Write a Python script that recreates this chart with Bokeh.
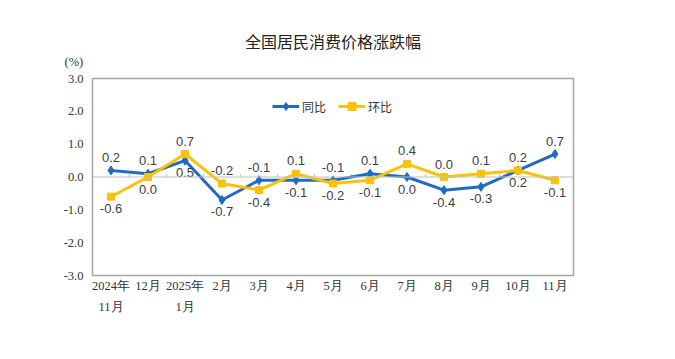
from bokeh.plotting import figure
from bokeh.models import (Range1d, FixedTicker, Span, Title, Legend, LegendItem)
from bokeh.core.properties import value
from bokeh.embed import file_html
from bokeh.resources import INLINE

months = ["2024年\n11月", "12月", "2025年\n1月", "2月", "3月", "4月", "5月",
          "6月", "7月", "8月", "9月", "10月", "11月"]
yoy = [0.2, 0.1, 0.5, -0.7, -0.1, -0.1, -0.1, 0.1, 0.0, -0.4, -0.3, 0.2, 0.7]
mom = [-0.6, 0.0, 0.7, -0.2, -0.4, 0.1, -0.2, -0.1, 0.4, 0.0, 0.1, 0.2, -0.1]
yticks = [-3.0, -2.0, -1.0, 0.0, 1.0, 2.0, 3.0]
title_text = "全国居民消费价格涨跌幅"
unit_text = "(%)"

BLUE = "#1F6BC4"
YELLOW = "#F9C20A"
SERIF = "Liberation Serif"
SANS = "Liberation Sans"

n = len(months)
xs = [i + 0.5 for i in range(n)]

p = figure(width=659, height=343, output_backend="svg", toolbar_location=None,
           x_range=Range1d(0, n), y_range=Range1d(-3, 3),
           min_border_left=92, min_border_right=86,
           min_border_top=78, min_border_bottom=68)
p.title.visible = False
p.background_fill_color = "white"
p.border_fill_color = "white"
p.outline_line_color = "#A6A6A6"
p.outline_line_width = 1.5
p.grid.visible = False

p.xaxis.ticker = FixedTicker(ticks=xs)
p.xaxis.major_label_overrides = {x: m for x, m in zip(xs, months)}
p.yaxis.ticker = FixedTicker(ticks=yticks)
p.yaxis.major_label_overrides = {t: f"{t:.1f}" for t in yticks}
for ax in (p.xaxis[0], p.yaxis[0]):
    ax.axis_line_color = None
    ax.major_tick_line_color = None
    ax.minor_tick_line_color = None
    ax.major_tick_out = 0
    ax.major_tick_in = 0
    ax.major_label_text_font = SERIF
    ax.major_label_text_font_size = "12.5px"
    ax.major_label_text_color = "#333333"
p.yaxis.major_label_standoff = 9
p.xaxis.major_label_standoff = 3
p.xaxis.major_label_text_line_height = 1.5

# zero line with category boundary ticks
p.add_layout(Span(location=0, dimension="width", line_color="#BFBFBF", line_width=1.2))
bounds = list(range(1, n))
p.segment(x0=bounds, x1=bounds, y0=[0] * len(bounds), y1=[0.09] * len(bounds),
          line_color="#BFBFBF", line_width=1)

r1l = p.line(xs, yoy, line_color=BLUE, line_width=3)
r1m = p.scatter(xs, yoy, marker="diamond", size=9, fill_color=BLUE, line_color=BLUE)
r2l = p.line(xs, mom, line_color=YELLOW, line_width=3)
r2m = p.scatter(xs, mom, marker="square", size=7, fill_color=YELLOW, line_color=YELLOW)

# data labels: higher value above, lower below
ax_, ay_, at_, bx_, by_, bt_ = [], [], [], [], [], []
for x, a, b in zip(xs, yoy, mom):
    if a > b:
        hi, lo = a, b
    else:
        hi, lo = b, a
    ax_.append(x); ay_.append(hi); at_.append(f"{hi:.1f}")
    bx_.append(x); by_.append(lo); bt_.append(f"{lo:.1f}")
p.text(x=ax_, y=ay_, text=at_, text_align="center", text_baseline="middle",
       y_offset=-13, text_font=value(SANS), text_font_size="13px", text_color="#404040")
p.text(x=bx_, y=by_, text=bt_, text_align="center", text_baseline="middle",
       y_offset=12, text_font=value(SANS), text_font_size="13px", text_color="#404040")

legend = Legend(items=[LegendItem(label="同比", renderers=[r1l, r1m]),
                       LegendItem(label="环比", renderers=[r2l, r2m])],
                orientation="horizontal", location=(180, 159),
                background_fill_alpha=0, border_line_color=None,
                label_text_font="Noto Sans CJK SC", label_text_font_size="12px",
                label_text_color="#333333", glyph_width=27, spacing=12,
                label_standoff=3)
p.add_layout(legend)

p.add_layout(Title(text=unit_text, align="left", offset=-28, standoff=19,
                   text_font=SERIF, text_font_size="12.5px",
                   text_font_style="normal", text_color="#333333"), "above")
p.add_layout(Title(text=title_text, align="center", offset=5, standoff=-18,
                   text_font="Noto Sans CJK SC", text_font_size="16px",
                   text_font_style="normal", text_color="#222222"), "above")

open("out.html", "w").write(file_html(p, INLINE))
